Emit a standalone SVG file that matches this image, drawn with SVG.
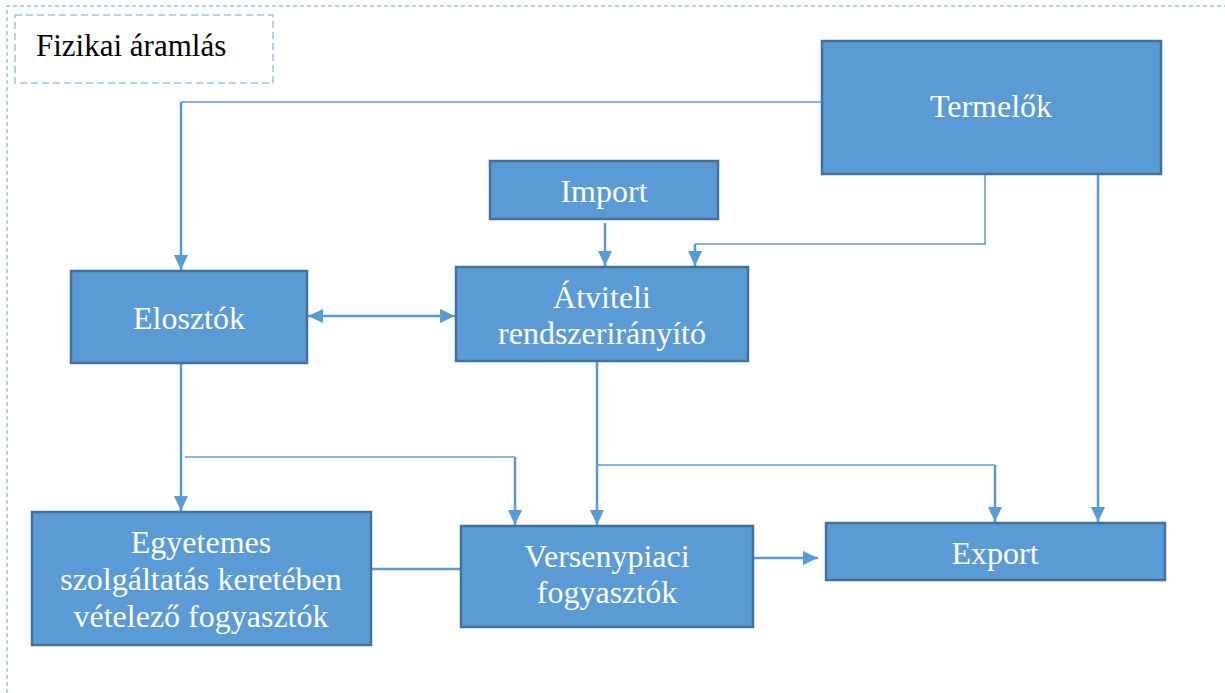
<svg xmlns="http://www.w3.org/2000/svg" width="1225" height="693" viewBox="0 0 1225 693">
<style>
.box{fill:#5b9bd5;stroke:#41719c;stroke-width:2.5}
.t{font-family:"Liberation Serif","Times New Roman",serif;font-size:32px;fill:#fff;text-anchor:middle}
.c{fill:none;stroke:#5b9bd5;stroke-width:2.5}
.thin{fill:none;stroke:#5b9bd5;stroke-width:1.5}
</style>
<defs>
<marker id="ah" markerUnits="userSpaceOnUse" markerWidth="16" markerHeight="14" refX="15" refY="7" orient="auto-start-reverse">
<path d="M0,0 L15,7 L0,14 Z" fill="#5b9bd5"/>
</marker>
</defs>
<rect x="0" y="0" width="1225" height="693" fill="#fff"/>
<path d="M7,700 V6 H1230" fill="none" stroke="#9dc3e6" stroke-width="1.5" stroke-dasharray="4 3"/>
<g id="label">
<rect x="15" y="15" width="258" height="68" fill="#fff" stroke="#9dc3e6" stroke-width="1.5" stroke-dasharray="7 4"/>
<text x="36" y="56" font-family="'Liberation Serif','Times New Roman',serif" font-size="31" fill="#000">Fizikai áramlás</text>
</g>
<g id="connectors">
<path class="thin" d="M822,102 H181"/>
<path class="c" d="M181,102 V270" marker-end="url(#ah)"/>
<path class="c" d="M605,223 V266" marker-end="url(#ah)"/>
<path class="thin" d="M985,174 V244 H695"/>
<path class="c" d="M695,244 V266" marker-end="url(#ah)"/>
<path class="c" d="M1098,174 V522" marker-end="url(#ah)"/>
<path class="c" d="M308,316 H455" marker-start="url(#ah)" marker-end="url(#ah)"/>
<path class="c" d="M181,364 V511" marker-end="url(#ah)"/>
<path class="thin" d="M185,457 H515"/>
<path class="c" d="M515,457 V525" marker-end="url(#ah)"/>
<path class="c" d="M597,362 V525" marker-end="url(#ah)"/>
<path class="thin" d="M597,465 H995"/>
<path class="c" d="M995,465 V522" marker-end="url(#ah)"/>
<path class="c" d="M754,558 H818" marker-end="url(#ah)"/>
<path class="c" d="M372,569 H461"/>
</g>
<g id="termelok"><rect class="box" x="822" y="41" width="339" height="133"/><text class="t" x="991" y="117">Termelők</text></g>
<g id="import"><rect class="box" x="490" y="161" width="228" height="58"/><text class="t" x="604" y="202">Import</text></g>
<g id="elosztok"><rect class="box" x="71" y="271" width="236" height="92"/><text class="t" x="189" y="329">Elosztók</text></g>
<g id="atviteli"><rect class="box" x="456" y="267" width="292" height="94"/><text class="t" x="602" y="308">Átviteli</text><text class="t" x="602" y="344">rendszerirányító</text></g>
<g id="egyetemes"><rect class="box" x="32" y="512" width="339" height="133"/><text class="t" x="201" y="553">Egyetemes</text><text class="t" x="201" y="590">szolgáltatás keretében</text><text class="t" x="201" y="627">vételező fogyasztók</text></g>
<g id="versenypiaci"><rect class="box" x="461" y="526" width="292" height="101"/><text class="t" x="607" y="567">Versenypiaci</text><text class="t" x="607" y="603">fogyasztók</text></g>
<g id="export"><rect class="box" x="826" y="523" width="339" height="57"/><text class="t" x="995" y="564">Export</text></g>
</svg>
